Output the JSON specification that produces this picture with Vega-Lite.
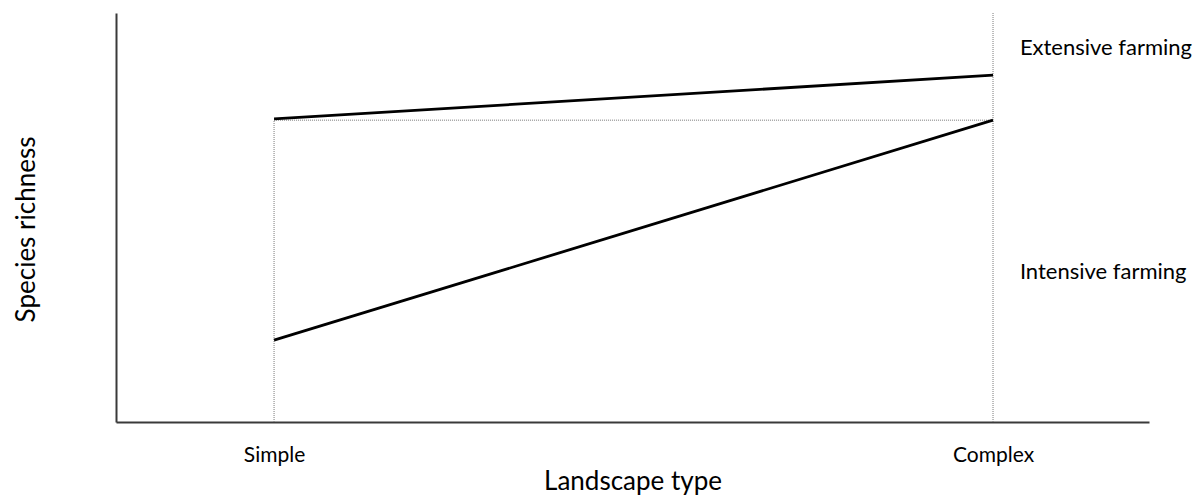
{
  "$schema": "https://vega.github.io/schema/vega-lite/v6.json",
  "autosize": "none",
  "padding": {"left": 116, "top": 13, "right": 51, "bottom": 74},
  "width": 1033,
  "height": 409,
  "background": "white",
  "config": {
    "view": {"stroke": null},
    "font": "Lato",
    "axis": {"grid": false, "ticks": false, "domainColor": "#3a3a3a", "domainWidth": 2, "labelFont": "Lato", "titleFont": "Lato", "labelColor": "#000000", "titleColor": "#000000", "titleFontWeight": "normal", "labelFontWeight": "normal"}
  },
  "datasets": {
    "solid": [
      {"series": "Extensive farming", "x": 15.3, "y": 74.1},
      {"series": "Extensive farming", "x": 84.9, "y": 84.8},
      {"series": "Intensive farming", "x": 15.3, "y": 20.0},
      {"series": "Intensive farming", "x": 84.9, "y": 73.8}
    ],
    "dotted": [
      {"seg": "h", "x": 15.3, "y": 73.8},
      {"seg": "h", "x": 84.9, "y": 73.8},
      {"seg": "v1", "x": 15.3, "y": 0},
      {"seg": "v1", "x": 15.3, "y": 73.8},
      {"seg": "v2", "x": 84.9, "y": 0},
      {"seg": "v2", "x": 84.9, "y": 100.2}
    ],
    "labels": [
      {"label": "Extensive farming", "x": 87.5, "y": 91.4},
      {"label": "Intensive farming", "x": 87.5, "y": 36.7}
    ]
  },
  "layer": [
    {
      "data": {"name": "dotted"},
      "mark": {"type": "line", "color": "#7a7a7a", "strokeWidth": 1, "strokeDash": [1, 1]},
      "encoding": {
        "x": {"field": "x", "type": "quantitative", "scale": {"domain": [0, 100], "nice": false},
          "axis": {"values": [15.3, 84.9], "labelExpr": "datum.value < 50 ? 'Simple' : 'Complex'", "labelFontSize": 21, "labelPadding": 22, "title": "Landscape type", "titleFontSize": 26, "titlePadding": 3}},
        "y": {"field": "y", "type": "quantitative", "scale": {"domain": [0, 100], "nice": false},
          "axis": {"labels": false, "title": "Species richness", "titleFontSize": 26, "titlePadding": 77, "titleY": 216}},
        "detail": {"field": "seg"}
      }
    },
    {
      "data": {"name": "solid"},
      "mark": {"type": "line", "color": "#000000", "strokeWidth": 2.8},
      "encoding": {
        "x": {"field": "x", "type": "quantitative"},
        "y": {"field": "y", "type": "quantitative"},
        "detail": {"field": "series"}
      }
    },
    {
      "data": {"name": "labels"},
      "mark": {"type": "text", "align": "left", "baseline": "middle", "fontSize": 22, "font": "Lato", "color": "#000000"},
      "encoding": {
        "x": {"field": "x", "type": "quantitative"},
        "y": {"field": "y", "type": "quantitative"},
        "text": {"field": "label"}
      }
    }
  ]
}
